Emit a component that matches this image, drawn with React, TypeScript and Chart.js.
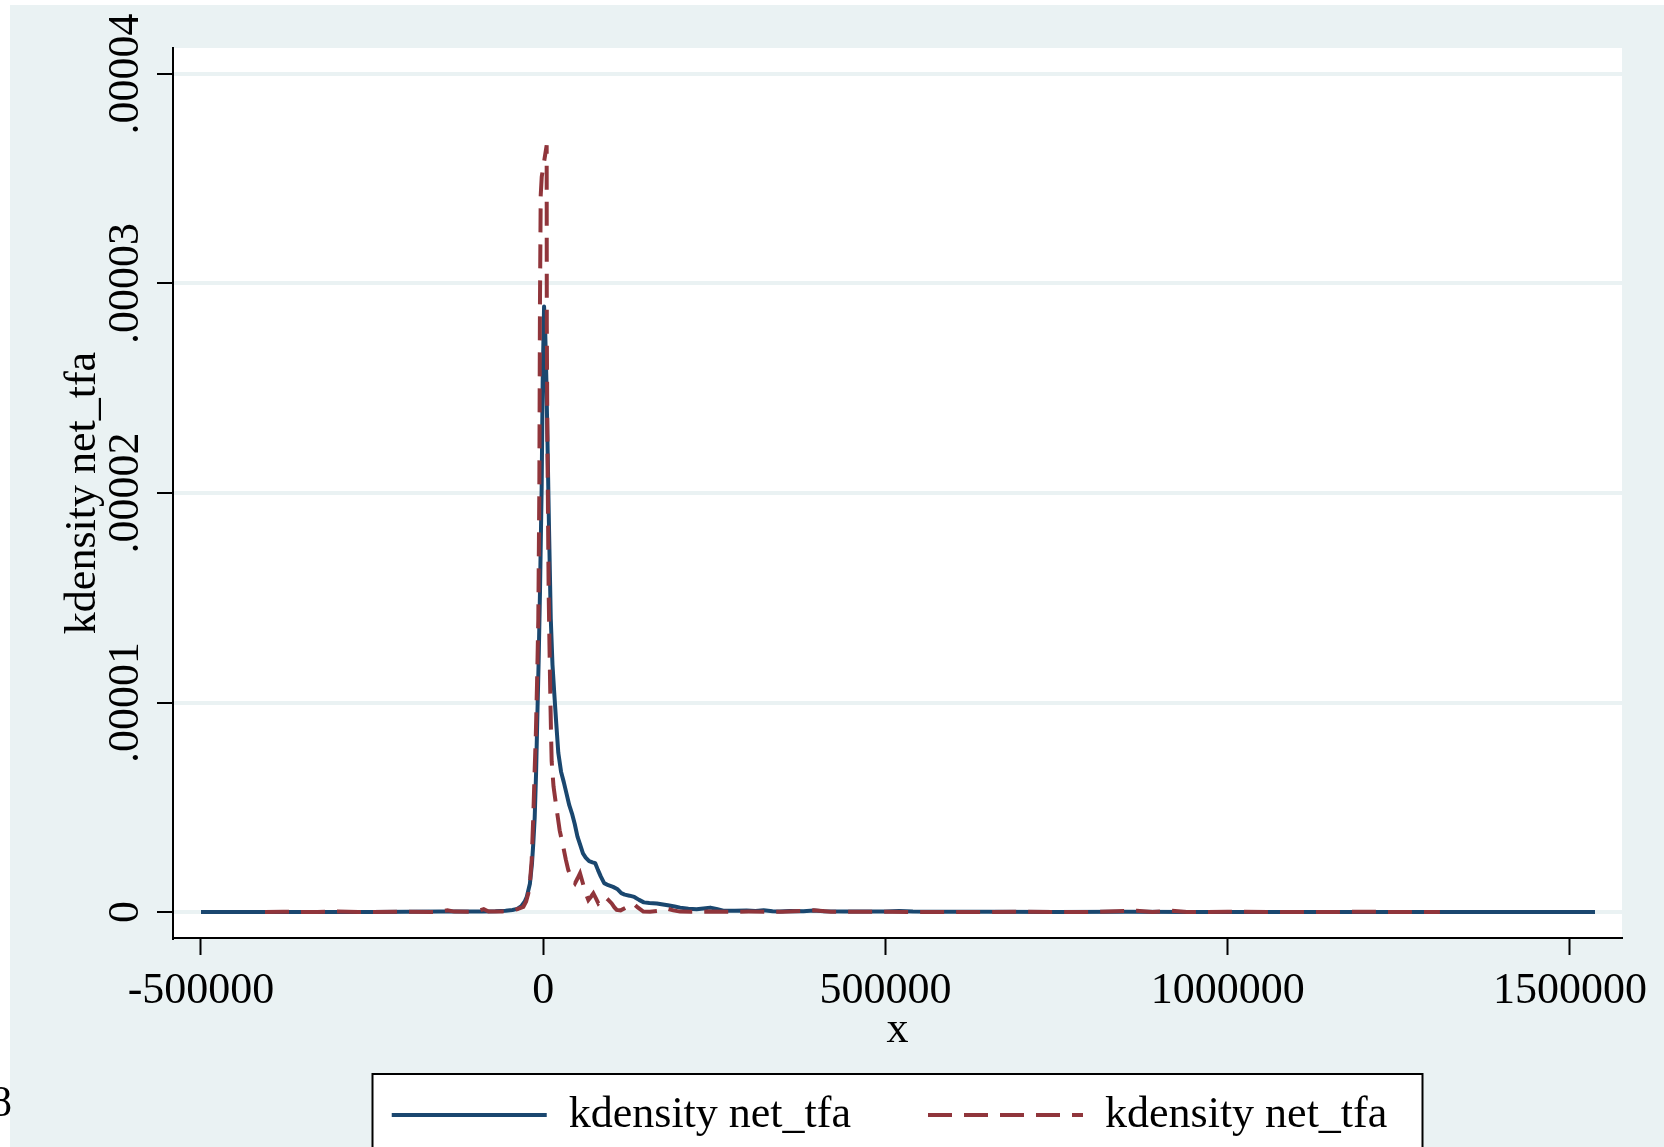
import React, { useEffect, useRef } from 'react';
import { Chart, registerables } from 'chart.js';

Chart.register(...registerables);

const FONT = "'Liberation Serif', 'Times New Roman', serif";
const BG = '#EAF2F3';
const GRID = '#EAF2F3';
const NAVY = '#1A476F';
const MAROON = '#90353B';

// axis ticks
const xTicks = [-500000, 0, 500000, 1000000, 1500000];
const xTickLabels = ['-500000', '0', '500000', '1000000', '1500000'];
const yTicks = [0, 1e-5, 2e-5, 3e-5, 4e-5];
const yTickLabels = ['0', '.00001', '.00002', '.00003', '.00004'];
const X_MIN = -540900;
const X_MAX = 1575970;
const Y_MIN = -0.124e-5;
const Y_MAX = 4.124e-5;

const xTitle = 'x';
const yTitle = 'kdensity net_tfa';
const seriesLabels = ['kdensity net_tfa', 'kdensity net_tfa'];

// series 1 (solid navy)
const blueX = [
  -500000, -450000, -400000, -350000, -300000, -250000, -200000, -150000, -120000, -90000,
  -70000, -55000, -45000, -38000, -32000, -27000, -24000, -19500, -16500, -14500,
  -12500, -10500, -8500, -6700, -4750, -2300, -850, 1200, 2800, 4500,
  6000, 8500, 11000, 13500, 16000, 19000, 22000, 26000, 30000, 34000,
  38000, 42000, 46000, 50000, 54000, 58000, 62000, 67000, 72000, 76000,
  80000, 84000, 89000, 95000, 102000, 108000, 114000, 119000, 126000, 133000,
  140000, 147000, 155000, 166000, 175000, 182000, 192000, 200000, 212000, 224000,
  234000, 244000, 253000, 263000, 280000, 297000, 310000, 322000, 335000, 346000,
  360000, 380000, 395000, 410000, 440000, 470000, 500000, 520000, 540000, 580000,
  650000, 750000, 850000, 950000, 1100000, 1300000, 1536500,
];
const blueY = [
  0, 0, 0, 0, 0, 0, 0.001e-5, 0.002e-5, 0.002e-5, 0.003e-5,
  0.004e-5, 0.006e-5, 0.01e-5, 0.015e-5, 0.028e-5, 0.05e-5, 0.073e-5, 0.135e-5, 0.23e-5, 0.33e-5,
  0.45e-5, 0.66e-5, 0.95e-5, 1.2e-5, 1.53e-5, 2.03e-5, 2.53e-5, 2.89e-5, 2.78e-5, 2.55e-5,
  2.28e-5, 1.82e-5, 1.4e-5, 1.18e-5, 1.05e-5, 0.9e-5, 0.76e-5, 0.67e-5, 0.62e-5, 0.565e-5,
  0.51e-5, 0.47e-5, 0.42e-5, 0.36e-5, 0.32e-5, 0.28e-5, 0.26e-5, 0.243e-5, 0.237e-5, 0.233e-5,
  0.2e-5, 0.17e-5, 0.138e-5, 0.128e-5, 0.12e-5, 0.11e-5, 0.09e-5, 0.083e-5, 0.078e-5, 0.072e-5,
  0.058e-5, 0.046e-5, 0.043e-5, 0.041e-5, 0.036e-5, 0.032e-5, 0.026e-5, 0.021e-5, 0.016e-5, 0.013e-5,
  0.017e-5, 0.021e-5, 0.015e-5, 0.006e-5, 0.006e-5, 0.007e-5, 0.005e-5, 0.008e-5, 0.004e-5, 0.003e-5,
  0.005e-5, 0.004e-5, 0.007e-5, 0.004e-5, 0.002e-5, 0.003e-5, 0.002e-5, 0.005e-5, 0.002e-5, 0.001e-5,
  0.001e-5, 0, 0.001e-5, 0, 0, 0, 0,
];

// series 2 (dashed maroon)
const redX = [
  -406500, -380000, -330000, -300000, -270000, -200000, -160000, -140000, -130000, -100000,
  -87000, -80000, -60000, -45000, -38800, -29100, -25000, -21800, -19000, -16900,
  -14500, -12500, -10800, -9000, -7200, -5700, -4800, -3700, -2200, 5000,
  5200, 6000, 7900, 9200, 10500, 11400, 12300, 15000, 19600, 24000,
  29300, 33000, 36600, 41000, 46400, 50000, 53700, 58600, 62000, 65900,
  69500, 73200, 77000, 80500, 85000, 90200, 95000, 100000, 104000, 107300,
  113000, 120000, 126000, 131600, 138000, 146200, 156000, 168000, 180300, 190000,
  199800, 215000, 240000, 270000, 300000, 350000, 395000, 420000, 500000, 600000,
  700000, 800000, 867000, 890000, 918000, 940000, 1000000, 1100000, 1200000, 1310000,
];
const redY = [
  0, 0.001e-5, 0, 0.002e-5, 0, 0.001e-5, 0, 0.008e-5, 0.002e-5, 0.001e-5,
  0.014e-5, 0.002e-5, 0.003e-5, 0.006e-5, 0.013e-5, 0.025e-5, 0.05e-5, 0.089e-5, 0.16e-5, 0.248e-5,
  0.46e-5, 0.68e-5, 0.85e-5, 1.1e-5, 1.4e-5, 2.03e-5, 2.9e-5, 3.42e-5, 3.51e-5, 3.66e-5,
  2.8e-5, 2.28e-5, 1.53e-5, 1.25e-5, 1.0e-5, 0.85e-5, 0.72e-5, 0.6e-5, 0.49e-5, 0.39e-5,
  0.31e-5, 0.25e-5, 0.2e-5, 0.165e-5, 0.137e-5, 0.16e-5, 0.185e-5, 0.129e-5, 0.09e-5, 0.057e-5,
  0.072e-5, 0.089e-5, 0.065e-5, 0.041e-5, 0.055e-5, 0.073e-5, 0.058e-5, 0.041e-5, 0.022e-5, 0.01e-5,
  0.008e-5, 0.02e-5, 0.035e-5, 0.041e-5, 0.022e-5, 0.002e-5, 0.001e-5, 0.006e-5, 0.017e-5, 0.008e-5,
  0.002e-5, 0.001e-5, 0.002e-5, 0.001e-5, 0.002e-5, 0.001e-5, 0.008e-5, 0.001e-5, 0.001e-5, 0,
  0.001e-5, 0, 0.006e-5, 0, 0.006e-5, 0, 0.001e-5, 0, 0.001e-5, 0,
];

const RED_DASH = [24, 12];
const LINE_W = 4;

const makePoints = (xs: number[], ys: number[]) => xs.map((x, i) => ({ x, y: ys[i] }));

const backgroundPlugin = {
  id: 'stataBackground',
  afterLayout(chart: any) {
    // Stata centres its key slightly left of the plot-region centre
    const lg = chart.legend;
    if (lg) {
      lg.left -= 8;
      lg.right -= 8;
    }
  },
  beforeDraw(chart: any) {
    const { ctx, chartArea, width, height } = chart;
    ctx.save();
    ctx.fillStyle = BG;
    ctx.fillRect(0, 0, width, height);
    ctx.fillStyle = '#ffffff';
    ctx.fillRect(chartArea.left, chartArea.top, chartArea.right - chartArea.left, chartArea.bottom - chartArea.top);
    const lg = chart.legend;
    if (lg) {
      const pad = lg.options.labels.padding;
      const cx = (chartArea.left + chartArea.right) / 2;
      const left = cx - 525;
      const right = cx + 525;
      const top = lg.top + pad + 22 - 41;
      ctx.fillStyle = '#ffffff';
      ctx.fillRect(left, top, right - left, height - top + 20);
      ctx.strokeStyle = '#000000';
      ctx.lineWidth = 2;
      ctx.strokeRect(left, top, right - left, height - top + 20);
    }
    ctx.restore();
  },
};

export default function App() {
  const ref = useRef<HTMLCanvasElement>(null);

  useEffect(() => {
    const canvas = ref.current;
    if (!canvas) return;
    const chart = new Chart(canvas, {
      type: 'line',
      data: {
        datasets: [
          {
            label: seriesLabels[0],
            data: makePoints(blueX, blueY),
            borderColor: NAVY,
            backgroundColor: NAVY,
            borderWidth: LINE_W,
            pointRadius: 0,
            fill: false,
            tension: 0,
            borderJoinStyle: 'round',
            order: 1,
          },
          {
            label: seriesLabels[1],
            data: makePoints(redX, redY),
            borderColor: MAROON,
            backgroundColor: MAROON,
            borderWidth: LINE_W,
            borderDash: RED_DASH,
            pointRadius: 0,
            fill: false,
            tension: 0,
            order: 0,
          },
        ],
      },
      options: {
        responsive: false,
        animation: false,
        devicePixelRatio: 1,
        events: [],
        layout: { padding: { top: 43, right: 42, bottom: 0, left: 0 } },
        scales: {
          x: {
            type: 'linear',
            position: 'bottom',
            min: X_MIN,
            max: X_MAX,
            afterBuildTicks: (scale: any) => {
              scale.ticks = xTicks.map((v) => ({ value: v }));
            },
            afterFit: (scale: any) => {
              scale.height = 78;
            },
            grid: {
              drawOnChartArea: false,
              drawTicks: true,
              tickLength: 17,
              tickWidth: 2,
              tickColor: '#000000',
              color: '#000000',
            },
            border: { display: true, color: '#000000', width: 2 },
            ticks: {
              autoSkip: false,
              maxRotation: 0,
              minRotation: 0,
              padding: 10,
              color: '#000000',
              font: { family: FONT, size: 44 },
              callback: (v: any) => xTickLabels[xTicks.indexOf(Number(v))],
            },
            title: {
              display: true,
              text: xTitle,
              color: '#000000',
              font: { family: FONT, size: 44 },
              padding: { top: 0, bottom: -40.4 },
            },
          },
          y: {
            type: 'linear',
            position: 'left',
            min: Y_MIN,
            max: Y_MAX,
            afterBuildTicks: (scale: any) => {
              scale.ticks = yTicks.map((v) => ({ value: v }));
            },
            afterFit: (scale: any) => {
              scale.width = 163;
            },
            grid: {
              drawOnChartArea: true,
              drawTicks: true,
              tickLength: 16,
              tickWidth: 2,
              tickColor: '#000000',
              color: GRID,
              lineWidth: 4,
            },
            border: { display: true, color: '#000000', width: 2 },
            ticks: {
              autoSkip: false,
              minRotation: 90,
              maxRotation: 90,
              crossAlign: 'center',
              padding: -29.5,
              color: '#000000',
              font: { family: FONT, size: 44 },
              callback: (_v: any, i: number) => yTickLabels[i],
            },
            title: {
              display: true,
              text: yTitle,
              color: '#000000',
              font: { family: FONT, size: 44 },
              padding: { top: 47, bottom: 0 },
            },
          },
        },
        plugins: {
          legend: {
            display: true,
            position: 'bottom',
            fullSize: false,
            align: 'center',
            labels: {
              usePointStyle: true,
              pointStyle: 'line',
              pointStyleWidth: 155,
              padding: 77,
              color: '#000000',
              font: { family: FONT, size: 44 },
              sort: (a: any, b: any) => a.datasetIndex - b.datasetIndex,
              generateLabels: (chart: any) =>
                chart.data.datasets.map((ds: any, i: number) => ({
                  text: ds.label,
                  datasetIndex: i,
                  fillStyle: ds.borderColor,
                  strokeStyle: ds.borderColor,
                  lineWidth: ds.borderWidth,
                  lineDash: ds.borderDash || [],
                  lineCap: 'butt',
                  pointStyle: 'line',
                  hidden: false,
                  fontColor: '#000000',
                })),
            },
          },
          tooltip: { enabled: false },
          title: { display: false },
        },
      },
      plugins: [backgroundPlugin],
    } as any);
    return () => chart.destroy();
  }, []);

  return (
    <div style={{ position: 'fixed', left: 0, top: 0, width: 1664, height: 1147, overflow: 'hidden', background: '#ffffff' }}>
      <div style={{ position: 'absolute', left: 10, top: 5, width: 1654, height: 1142 }}>
        <canvas ref={ref} width={1654} height={1142} style={{ display: 'block', width: 1654, height: 1142 }} />
      </div>
      <div style={{ position: 'absolute', left: -10, top: 1080, fontFamily: FONT, fontSize: 44, lineHeight: '44px', color: '#000000' }}>8</div>
    </div>
  );
}
